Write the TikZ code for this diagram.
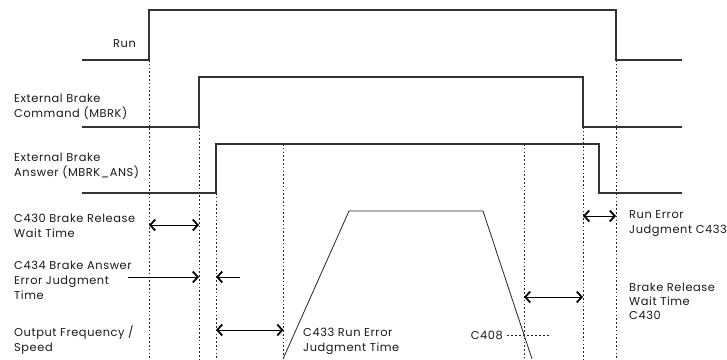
\documentclass[tikz,border=0pt]{standalone}
\usepackage{fontspec}
\setmainfont{Poppins}[LetterSpace=5]
\usetikzlibrary{arrows.meta}
\begin{document}
\begin{tikzpicture}[x=1pt,y=-1pt,
  sig/.style={line width=1.1pt,draw=black!80},
  vline/.style={line width=0.9pt,dash pattern=on 1.6pt off 2.2pt,draw=black!85},
  dim/.style={line width=1pt,{Straight Barb[length=5pt,width=11pt,line width=1.8pt]}-{Straight Barb[length=5pt,width=11pt,line width=1.8pt]}},
  dimr/.style={line width=1pt,-{Straight Barb[length=5pt,width=11pt,line width=1.8pt]}},
  lbl/.style={font=\fontsize{11.4}{15}\selectfont,inner sep=0pt,align=left,anchor=base west,text=black!90},
  every node/.style={inner sep=0pt}]
\useasboundingbox (0,0) rectangle (727,359);
% signals
\draw[sig] (82,60) -- (149,60) -- (149,10) -- (616,10) -- (616,60) -- (682,60);
\draw[sig] (82,127) -- (199,127) -- (199,77) -- (583,77) -- (583,127) -- (682,127);
\draw[sig] (82,193) -- (216,193) -- (216,144) -- (599,144) -- (599,193) -- (682,193);
% output frequency
\draw[line width=0.8pt,black!85] (283,359) -- (349,211) -- (483,211) -- (532,359);
% dotted verticals
\coordinate (t1) at (149,60);
\coordinate (t2) at (199,127);
\coordinate (t3) at (216,193);
\coordinate (t4) at (283.5,144);
\coordinate (t5) at (524,144);
\coordinate (t6) at (583,127);
\coordinate (t7) at (616,60);
\foreach \c in {t1,t2,t3,t4,t5,t6,t7} \draw[vline] (\c) -- (\c |- 0,359);
% arrows
\draw[dim] (t1 |- 0,225) -- (t2 |- 0,225);
\coordinate (a1) at (128,277);
\coordinate (a2) at (240,277);
\draw[dimr] (a1) -- (t2 |- a1);
\draw[dimr] (a2) -- (t3 |- a2);
\draw[dim] (t3 |- 0,330) -- (t4 |- 0,330);
\draw[dim] (t6 |- 0,216) -- (t7 |- 0,216);
\draw[dim] (t5 |- 0,297) -- (t6 |- 0,297);
% C408
\node[lbl,anchor=base east] (c408) at (503,339) {C408};
\draw[line width=0.9pt,dash pattern=on 1.6pt off 2.4pt,black!85] (507,335) -- (549,335);
% labels (base = last line)
\node[lbl,anchor=base east] (run) at (136,47) {Run};
\node[lbl] (mbrk) at (14,117) {External Brake\\Command (MBRK)};
\node[lbl] (ans) at (14,176) {External Brake\\Answer (MBRK\_ANS)};
\node[lbl] (c430) at (14,237) {C430 Brake Release\\Wait Time};
\node[lbl] (c434) at (14,299) {C434 Brake Answer\\Error Judgment\\Time};
\node[lbl] (out) at (14,351) {Output Frequency /\\Speed};
\node[lbl] (c433) at (303,351) {C433 Run Error\\Judgment Time};
\node[lbl] (rej) at (629,233) {Run Error\\Judgment C433};
\node[lbl,font=\fontsize{11.4}{14}\selectfont] (brw) at (629,319) {Brake Release\\Wait Time\\C430};
\end{tikzpicture}
\end{document}
